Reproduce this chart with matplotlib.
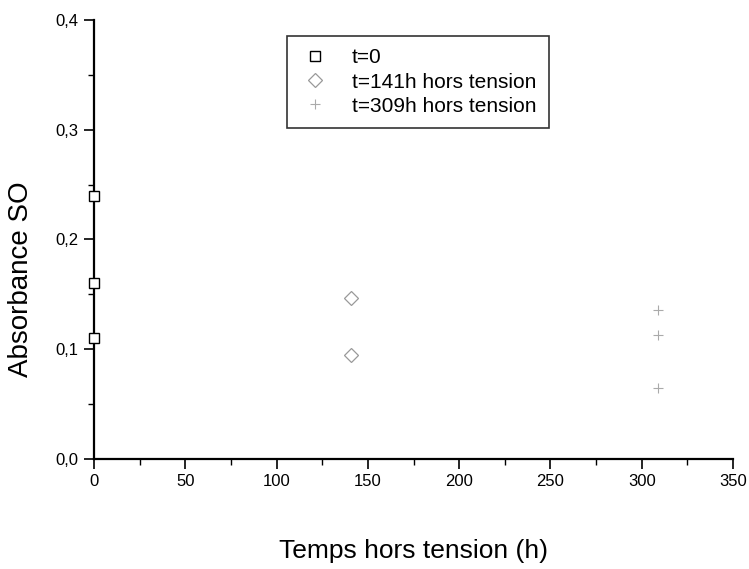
import matplotlib
matplotlib.use("Agg")
import matplotlib.pyplot as plt
from matplotlib.ticker import MultipleLocator, FuncFormatter

plt.rcParams['font.family'] = ['Liberation Sans', 'DejaVu Sans']

# data
t0_x = [0, 0, 0]
t0_y = [0.24, 0.16, 0.11]
t141_x = [141, 141]
t141_y = [0.147, 0.095]
t309_x = [309, 309, 309]
t309_y = [0.136, 0.113, 0.065]
labels = ["t=0", "t=141h hors tension", "t=309h hors tension"]

fig = plt.figure(figsize=(7.49, 5.69), dpi=100)
ax = fig.add_axes([94/749, 110/569, 639/749, 439/569])

ax.plot(t0_x, t0_y, ls='none', marker='s', ms=7.5, mfc='white', mec='black', mew=1.0,
        label=labels[0], clip_on=False, zorder=5)
ax.plot(t141_x, t141_y, ls='none', marker='D', ms=7, mfc='none', mec='#999999', mew=0.9,
        label=labels[1])
ax.plot(t309_x, t309_y, ls='none', marker='+', ms=7, mec='#aaaaaa', mew=0.8,
        label=labels[2])

ax.set_xlim(0, 350)
ax.set_ylim(0, 0.4)
ax.xaxis.set_major_locator(MultipleLocator(50))
ax.xaxis.set_minor_locator(MultipleLocator(25))
ax.yaxis.set_major_locator(MultipleLocator(0.1))
ax.yaxis.set_minor_locator(MultipleLocator(0.05))
ax.yaxis.set_major_formatter(FuncFormatter(lambda v, p: ("%.1f" % v).replace('.', ',')))

for s in ['top', 'right']:
    ax.spines[s].set_visible(False)
for s in ['left', 'bottom']:
    ax.spines[s].set_linewidth(1.6)

ax.tick_params(which='major', direction='out', length=7, width=1.2, labelsize=12, pad=4)
ax.tick_params(which='minor', direction='out', length=4, width=1.0)

ax.set_xlabel("Temps hors tension (h)", fontsize=19)
ax.set_ylabel("Absorbance SO", fontsize=20)
ax.xaxis.set_label_coords(0.5, -0.182)
ax.yaxis.set_label_coords(-0.094, 0.41)

leg = ax.legend(loc='upper left', bbox_to_anchor=(0.302, 0.964), fontsize=15,
                frameon=True, fancybox=False, edgecolor='black', borderpad=0.6,
                handletextpad=1.0, labelspacing=0.25, handlelength=1.5,
                borderaxespad=0)
leg.get_frame().set_linewidth(1.2)

fig.savefig("out.png", dpi=100)
